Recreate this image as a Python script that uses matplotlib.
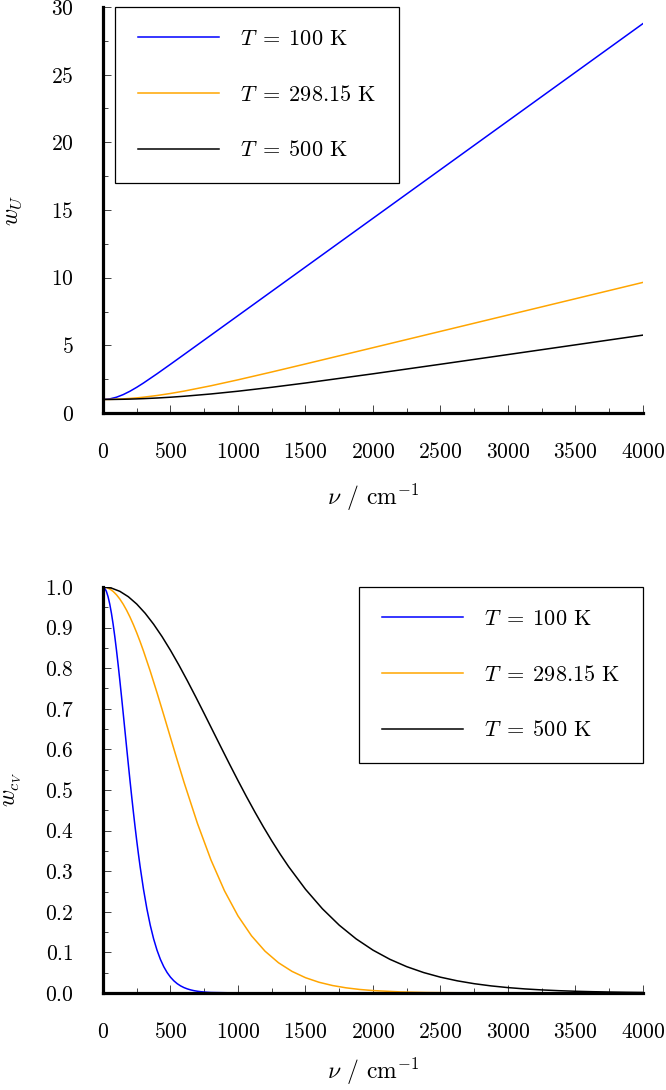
import matplotlib
matplotlib.use('Agg')
import matplotlib.pyplot as plt
from matplotlib.ticker import MultipleLocator

plt.rcParams['font.family'] = 'serif'
plt.rcParams['font.serif'] = ['cmr10']
plt.rcParams['mathtext.fontset'] = 'cm'
plt.rcParams['axes.formatter.use_mathtext'] = True

labels = [r'$T\;=\;100$ K', r'$T\;=\;298.15$ K', r'$T\;=\;500$ K']
colors = ['#0000ff', '#ffa500', '#000000']

# top panel: w_U
nu_u = [0, 50, 100, 150, 200, 250, 300, 400, 500, 600, 800, 1000, 1250, 1500,
        2000, 2500, 3000, 3500, 4000]
wu_100 = [1.0, 1.0428, 1.1668, 1.3610, 1.6103, 1.8999, 2.2166, 2.8959, 3.6024,
          4.3179, 5.7553, 7.194, 8.9925, 10.791, 14.388, 17.985, 21.582,
          25.179, 28.776]
wu_298 = [1.0, 1.00485, 1.01933, 1.04328, 1.07645, 1.11844, 1.16883, 1.2928,
          1.44378, 1.61711, 2.01334, 2.45184, 3.0305, 3.6244, 4.8262, 6.032,
          7.2384, 8.4448, 9.6512]
wu_500 = [1.0, 1.00173, 1.00689, 1.01548, 1.02745, 1.0428, 1.06135, 1.10805,
          1.1668, 1.23688, 1.40697, 1.6103, 1.8999, 2.2166, 2.8959, 3.6024,
          4.3179, 5.0362, 5.7553]

# bottom panel: w_cV
nu_cv_100 = [0, 12.5, 25, 37.5, 50, 62.5, 75, 87.5, 100, 112.5, 125, 137.5,
             150, 162.5, 175, 187.5, 200, 212.5, 225, 237.5, 250, 262.5, 275,
             300, 325, 350, 375, 400, 425, 450, 475, 500, 525, 550, 575, 600,
             625, 650, 675, 700, 725, 750, 775, 800, 1000, 2000, 3000, 4000]
wcv_100 = [1.0, 0.99731, 0.98929, 0.97609, 0.95797, 0.93525, 0.9083, 0.87776,
           0.84396, 0.80753, 0.769, 0.72897, 0.68794, 0.64633, 0.6048,
           0.56358, 0.52316, 0.48385, 0.44589, 0.4095, 0.37485, 0.34207,
           0.31122, 0.25546, 0.20754, 0.16703, 0.13329, 0.10554, 0.08299,
           0.06485, 0.05037, 0.03893, 0.02994, 0.02292, 0.01748, 0.01328,
           0.01006, 0.00759, 0.00571, 0.00429, 0.00321, 0.0024, 0.00179,
           0.00133, 0.00012, 0.0, 0.0, 0.0]
nu_cv_298 = [0, 25, 50, 75, 100, 125, 150, 175, 200, 225, 250, 275, 300, 350,
             400, 450, 500, 550, 600, 700, 800, 900, 1000, 1100, 1200, 1300,
             1400, 1500, 1600, 1700, 1800, 1900, 2000, 2200, 2400, 2700, 3000,
             3500, 4000]
wcv_298 = [1.0, 0.99879, 0.99515, 0.98916, 0.98082, 0.97022, 0.95746, 0.94263,
           0.9259, 0.90729, 0.88706, 0.86532, 0.84221, 0.79268, 0.73979,
           0.68487, 0.62902, 0.5735, 0.51922, 0.41728, 0.32747, 0.25164,
           0.18983, 0.14089, 0.10309, 0.0745, 0.05325, 0.0377, 0.02646,
           0.01843, 0.01275, 0.00877, 0.00599, 0.00276, 0.00125, 0.00037,
           0.00011, 0.00001, 0.0]
nu_cv_500 = [0, 62.5, 125, 187.5, 250, 312.5, 375, 437.5, 500, 562.5, 625,
             687.5, 750, 812.5, 875, 937.5, 1000, 1062.5, 1125, 1187.5, 1250,
             1312.5, 1375, 1500, 1625, 1750, 1875, 2000, 2125, 2250, 2375,
             2500, 2625, 2750, 2875, 3000, 3125, 3250, 3375, 3500, 3625, 3750,
             3875, 4000]
wcv_500 = [1.0, 0.99731, 0.98929, 0.97609, 0.95797, 0.93525, 0.9083, 0.87776,
           0.84396, 0.80753, 0.769, 0.72897, 0.68794, 0.64633, 0.6048,
           0.56358, 0.52316, 0.48385, 0.44589, 0.4095, 0.37485, 0.34207,
           0.31122, 0.25546, 0.20754, 0.16703, 0.13329, 0.10554, 0.08299,
           0.06485, 0.05037, 0.03893, 0.02994, 0.02292, 0.01748, 0.01328,
           0.01006, 0.00759, 0.00571, 0.00429, 0.00321, 0.0024, 0.00179,
           0.00133]

fig = plt.figure(figsize=(6.66, 10.9), dpi=100)
ax1 = fig.add_axes([0.15465, 0.6211, 0.81081, 0.37248])
ax2 = fig.add_axes([0.15465, 0.08899, 0.81081, 0.37248])


def style(ax, lpad):
    ax.spines['right'].set_visible(False)
    ax.spines['top'].set_visible(False)
    ax.spines['left'].set_linewidth(2.3)
    ax.spines['bottom'].set_linewidth(2.3)
    ax.tick_params(which='both', direction='in', width=0.7, color='#444444',
                   labelsize=15.5, pad=21)
    ax.tick_params(which='major', length=6)
    ax.tick_params(which='minor', length=3.5)
    ax.set_xlim(0, 4000)
    ax.xaxis.set_major_locator(MultipleLocator(500))
    ax.xaxis.set_minor_locator(MultipleLocator(250))
    ax.set_xlabel(r'$\nu$ / cm$^{-1}$', fontsize=17, labelpad=lpad)


def add_legend(ax, loc, anchor):
    leg = ax.legend(loc=loc, bbox_to_anchor=anchor, borderaxespad=0,
                    fontsize=16, handlelength=3.65, handletextpad=0.95,
                    labelspacing=1.6, borderpad=1.02, fancybox=False,
                    framealpha=1)
    leg.get_frame().set_edgecolor('black')
    leg.get_frame().set_linewidth(0.9)


ax1.plot(nu_u, wu_100, color=colors[0], lw=1.1, label=labels[0])
ax1.plot(nu_u, wu_298, color=colors[1], lw=1.1, label=labels[1])
ax1.plot(nu_u, wu_500, color=colors[2], lw=1.1, label=labels[2])
style(ax1, 14)
ax1.set_ylim(0, 30)
ax1.yaxis.set_major_locator(MultipleLocator(5))
ax1.yaxis.set_minor_locator(MultipleLocator(2.5))
ax1.set_ylabel(r'$w_U$', fontsize=17)
ax1.yaxis.set_label_coords(-0.146, 0.5)
add_legend(ax1, 'upper left', (0.022, 1.0))

ax2.plot(nu_cv_100, wcv_100, color=colors[0], lw=1.1, label=labels[0])
ax2.plot(nu_cv_298, wcv_298, color=colors[1], lw=1.1, label=labels[1])
ax2.plot(nu_cv_500, wcv_500, color=colors[2], lw=1.1, label=labels[2])
style(ax2, 10)
ax2.set_ylim(0, 1.0)
ax2.yaxis.set_major_locator(MultipleLocator(0.1))
ax2.yaxis.set_minor_locator(MultipleLocator(0.05))
ax2.set_ylabel(r'$w_{c_V}$', fontsize=17)
ax2.yaxis.set_label_coords(-0.146, 0.5)
add_legend(ax2, 'upper right', (1.0, 1.0))

fig.savefig('out.png', dpi=100)
